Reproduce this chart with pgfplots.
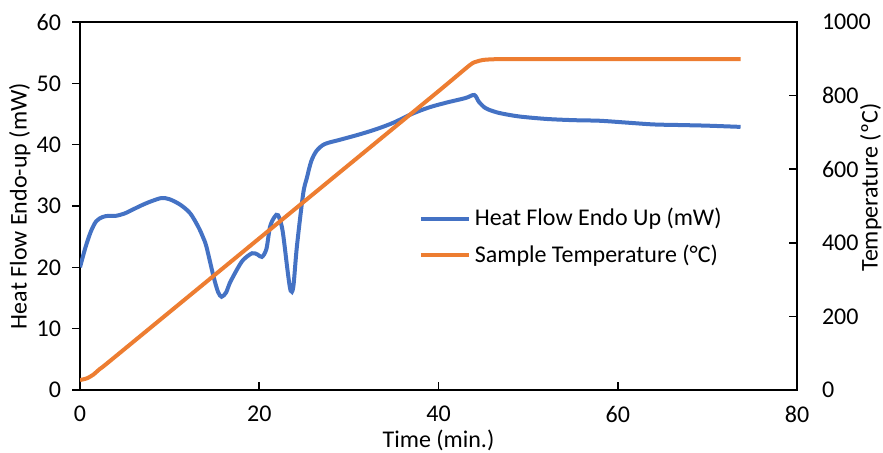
\documentclass[border=0pt]{standalone}
\usepackage{fontspec}
\setmainfont{Carlito}
\usepackage{pgfplots}
\pgfplotsset{compat=1.18}
\definecolor{hfblue}{HTML}{4472C4}
\definecolor{temporange}{HTML}{ED7D31}

\pgfplotsset{
  common/.style={
    scale only axis, width=358.5pt, height=184pt,
    xmin=0, xmax=80,
    axis line style={black, line width=0.9pt},
    tick style={black, line width=0.8pt},
    major tick length=4pt,
    font=\fontsize{12}{14}\selectfont,
    /pgf/number format/assume math mode=true,
    /pgf/number format/1000 sep={},
  },
}

\begin{document}
\begin{tikzpicture}
\path[use as bounding box] (-40pt,-31pt) rectangle (401.5pt,195pt);

\begin{axis}[common,
  ymin=0, ymax=60, ytick={0,10,...,60}, xtick={0,20,...,80},
  xtick pos=left, ytick pos=left,
  xtick align=inside, ytick align=outside,
  xlabel={Time (min.)}, ylabel={Heat Flow Endo-up (mW)},
  xlabel style={at={(axis description cs:0.5,-0.136)}, anchor=center},
  ylabel style={at={(axis description cs:-0.084,0.5)}, anchor=center},
  xticklabel style={yshift=-4.5pt},
  yticklabel style={xshift=-2pt},
]
\addplot[hfblue, line width=2pt, smooth, tension=0.5] coordinates {
  (0,20) (0.6,23.2) (1.2,25.8) (1.8,27.5) (2.5,28.2) (3.2,28.4) (4,28.4)
  (5,28.8) (6,29.5) (7,30.2) (8,30.8) (9.1,31.3) (10,31.1) (11.2,30.2)
  (12.3,28.8) (13.2,26.6) (13.7,25) (14.1,23.4) (14.9,18.5) (15.4,16)
  (15.8,15.2) (16.3,15.9) (16.7,17.4) (17.5,19.6) (18.2,21.2) (19.2,22.3)
  (19.8,22.1) (20.3,21.7) (20.8,23) (21.2,26.6) (21.7,28.2) (22.1,28.5)
  (22.6,26) (23.2,19) (23.5,16.2) (23.8,16.8) (24.2,23.4) (24.9,32)
  (25.3,34.5) (25.8,37.3) (26.4,39) (27.3,40.1) (29,40.8) (31,41.6)
  (33,42.5) (35,43.6) (37,45) (39,46.1) (41,46.9) (43,47.6) (44,48.1)
  (44.5,47) (45.2,46) (46,45.5) (47,45.1) (49,44.6) (52,44.2) (55,44)
  (58,43.9) (61,43.6) (64,43.3) (67,43.2) (70,43.1) (73.7,42.9)
};
\end{axis}

\begin{axis}[common,
  ymin=0, ymax=1000, ytick={0,200,...,1000},
  axis y line*=right, axis x line=none,
  ytick align=inside,
  ylabel={Temperature (ºC)},
  ylabel style={at={(axis description cs:1.103,0.55)}, anchor=center},
  yticklabel style={xshift=9pt},
  legend style={at={(0.472,0.416)}, anchor=west, draw=none, fill=none,
    inner sep=0pt, row sep=4pt, font=\fontsize{12}{14}\selectfont,
    nodes={inner sep=2pt}},
  legend cell align=left,
  legend image code/.code={\draw[#1] (0pt,0pt) -- (24pt,0pt);},
]
\addlegendimage{hfblue, line width=2pt}
\addlegendentry{Heat Flow Endo Up (mW)}
\addplot[temporange, line width=2pt, smooth, tension=0.4] coordinates {
  (0,27) (0.8,32) (1.5,42) (2.2,57) (3,72) (10,212) (20,412) (30,612)
  (40,812) (43.5,883) (44.2,892) (45,897) (46.5,899) (50,899)
  (60,899) (73.7,899)
};
\addlegendentry{Sample Temperature (°C)}
\end{axis}
\end{tikzpicture}
\end{document}
